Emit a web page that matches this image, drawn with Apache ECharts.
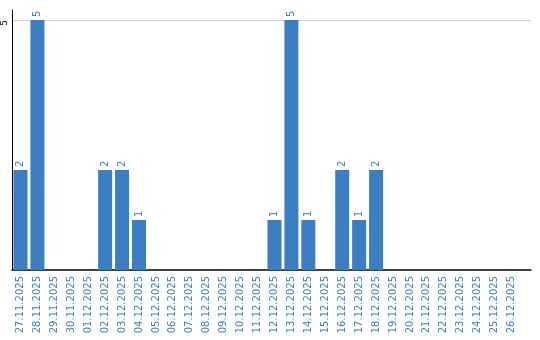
<!DOCTYPE html>
<html><head><meta charset="utf-8">
<script src="https://cdn.jsdelivr.net/npm/echarts@6/dist/echarts.min.js"></script>
<style>html,body{margin:0;padding:0;background:#fff}#c{width:540px;height:340px}</style>
</head><body><div id="c"></div>
<script>
const categories = ["27.11.2025","28.11.2025","29.11.2025","30.11.2025","01.12.2025","02.12.2025","03.12.2025","04.12.2025","05.12.2025","06.12.2025","07.12.2025","08.12.2025","09.12.2025","10.12.2025","11.12.2025","12.12.2025","13.12.2025","14.12.2025","15.12.2025","16.12.2025","17.12.2025","18.12.2025","19.12.2025","20.12.2025","21.12.2025","22.12.2025","23.12.2025","24.12.2025","25.12.2025","26.12.2025"];
const values = [2,5,0,0,0,2,2,1,0,0,0,0,0,0,0,1,5,1,0,2,1,2,0,0,0,0,0,0,0,0];
const yTicks = [5];

const blue = '#3b7dc2';
const chart = echarts.init(document.getElementById('c'));
chart.setOption({
  animation: false,
  grid: {left: 10, right: 9, top: 10, bottom: 70},
  xAxis: {
    type: 'value', min: -0.5, max: 30.15,
    axisLine: {show: true, onZero: false, lineStyle: {color: '#000', width: 1.5}},
    axisTick: {show: false},
    splitLine: {show: false},
    axisLabel: {
      customValues: categories.map((c, i) => i),
      formatter: v => categories[Math.round(v)] || '',
      rotate: 90, color: blue, fontFamily: 'DejaVu Sans', fontSize: 10, margin: 6
    }
  },
  yAxis: {
    type: 'value', min: 0, max: 5.2,
    axisLine: {show: true, onZero: false, lineStyle: {color: '#000', width: 1}},
    axisTick: {show: false},
    splitLine: {show: true, showMinLine: false, showMaxLine: false, lineStyle: {color: '#cccccc', width: 1}},
    axisLabel: {
      customValues: yTicks,
      rotate: 90, color: '#000', fontFamily: 'DejaVu Sans', fontSize: 9, margin: 3,
      padding: [0, 6, 0, 0]
    },
    interval: 5
  },
  series: [{
    type: 'bar',
    data: values.map((v, i) => [i, v]),
    barWidth: 14,
    itemStyle: {color: blue},
    label: {
      show: true, position: 'top', rotate: 90, align: 'left', verticalAlign: 'middle',
      distance: 3, color: blue, fontFamily: 'DejaVu Sans', fontSize: 10,
      formatter: p => p.value[1] ? String(p.value[1]) : ''
    }
  }]
});
</script></body></html>
